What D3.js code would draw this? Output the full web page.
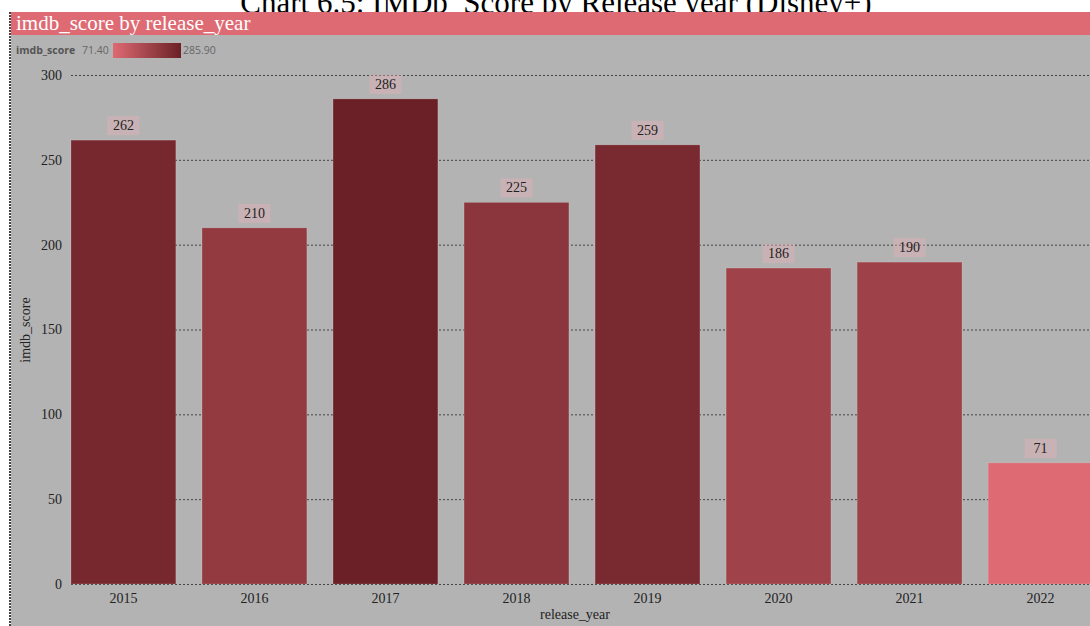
<!doctype html>
<html>
<head>
<meta charset="utf-8">
<style>
body { margin: 0; background: #fff; }
svg { display: block; font-family: "Liberation Serif", "Times New Roman", serif; }
.legend text { font-family: "Open Sans", "Liberation Sans", sans-serif; font-size: 10.5px; }
</style>
</head>
<body>
<div id="viz"></div>
<script src="https://cdn.jsdelivr.net/npm/d3@7"></script>
<script>
// chart data
var years = ['2015', '2016', '2017', '2018', '2019', '2020', '2021', '2022'];
var scores = [261.6, 209.9, 285.9, 224.9, 258.8, 186.2, 189.7, 71.4];
var yTicks = [0, 50, 100, 150, 200, 250, 300];

var width = 1090;
var height = 626;

var svg = d3.select('#viz').append('svg')
    .attr('width', width)
    .attr('height', height);

// page title, partly hidden behind the panel header
svg.append('text')
    .attr('x', 556)
    .attr('y', 13)
    .attr('text-anchor', 'middle')
    .style('font-size', '31px')
    .style('fill', '#000')
    .text('Chart 6.5: IMDb_Score by Release year (Disney+)');

// panel background + header
svg.append('rect')
    .attr('x', 11).attr('y', 35)
    .attr('width', width - 11).attr('height', height - 35)
    .attr('fill', '#b3b3b3');
svg.append('rect')
    .attr('x', 11).attr('y', 12)
    .attr('width', width - 11).attr('height', 23)
    .attr('fill', '#de6a73');
svg.append('line')
    .attr('x1', 10).attr('x2', 10)
    .attr('y1', 12).attr('y2', height)
    .attr('stroke', '#444')
    .attr('stroke-width', 2)
    .attr('stroke-dasharray', '2,1');
svg.append('text')
    .attr('x', 16).attr('y', 30)
    .style('font-size', '21px')
    .style('fill', '#fff')
    .text('imdb_score by release_year');

// scales
var x = d3.scaleBand()
    .domain(years)
    .range([71, 1093])
    .paddingInner(0.2)
    .paddingOuter(0);
var y = d3.scaleLinear()
    .domain([0, 300])
    .range([584, 75]);
var color = d3.scaleLinear()
    .domain([71.4, 285.9])
    .range(['#de6a73', '#6a2026']);

// legend
var legend = svg.append('g').attr('class', 'legend');
var grad = svg.append('defs').append('linearGradient').attr('id', 'lg');
grad.append('stop').attr('offset', '0%').attr('stop-color', color(71.4));
grad.append('stop').attr('offset', '100%').attr('stop-color', color(285.9));
legend.append('text').attr('x', 16).attr('y', 54)
    .style('font-weight', 'bold').style('fill', '#555').text('imdb_score');
legend.append('text').attr('x', 82).attr('y', 54)
    .style('fill', '#666').text('71.40');
legend.append('rect').attr('x', 113).attr('y', 43)
    .attr('width', 68).attr('height', 15)
    .attr('fill', 'url(#lg)');
legend.append('text').attr('x', 183).attr('y', 54)
    .style('fill', '#666').text('285.90');

// grid + y axis
var yAxis = svg.append('g')
    .attr('transform', 'translate(71,0)')
    .call(d3.axisLeft(y).tickValues(yTicks).tickSize(-(width - 71)).tickPadding(9));
yAxis.select('.domain').remove();
yAxis.selectAll('.tick line')
    .attr('stroke', '#444')
    .attr('stroke-dasharray', '2,2');
yAxis.selectAll('.tick text')
    .style('font-family', '"Liberation Serif", serif')
    .style('font-size', '14px')
    .style('fill', '#222');

// bars
svg.selectAll('rect.bar')
    .data(scores)
    .enter().append('rect')
    .attr('class', 'bar')
    .attr('x', function (d, i) { return x(years[i]); })
    .attr('y', function (d) { return y(d); })
    .attr('width', x.bandwidth())
    .attr('height', function (d) { return y(0) - y(d); })
    .attr('fill', function (d) { return color(d); })
    .attr('stroke', 'rgba(255,255,255,0.15)');

// value labels
var labels = svg.selectAll('g.label')
    .data(scores)
    .enter().append('g')
    .attr('class', 'label')
    .attr('transform', function (d, i) {
        return 'translate(' + (x(years[i]) + x.bandwidth() / 2) + ',' + (y(d) - 5) + ')';
    });
labels.append('rect')
    .attr('x', -16).attr('y', -19)
    .attr('width', 32).attr('height', 19)
    .attr('fill', '#eab2b8')
    .attr('fill-opacity', 0.4);
labels.append('text')
    .attr('y', -5)
    .attr('text-anchor', 'middle')
    .style('font-size', '14px')
    .style('fill', '#222')
    .text(function (d) { return Math.round(d); });

// x axis labels
svg.selectAll('text.xlab')
    .data(years)
    .enter().append('text')
    .attr('class', 'xlab')
    .attr('x', function (d) { return x(d) + x.bandwidth() / 2; })
    .attr('y', 603)
    .attr('text-anchor', 'middle')
    .style('font-size', '14px')
    .style('fill', '#222')
    .text(function (d) { return d; });

// axis titles
svg.append('text')
    .attr('x', 575).attr('y', 619)
    .attr('text-anchor', 'middle')
    .style('font-size', '14px')
    .style('fill', '#222')
    .text('release_year');
svg.append('text')
    .attr('transform', 'translate(30,330) rotate(-90)')
    .attr('text-anchor', 'middle')
    .style('font-size', '14px')
    .style('fill', '#222')
    .text('imdb_score');
</script>
</body>
</html>
